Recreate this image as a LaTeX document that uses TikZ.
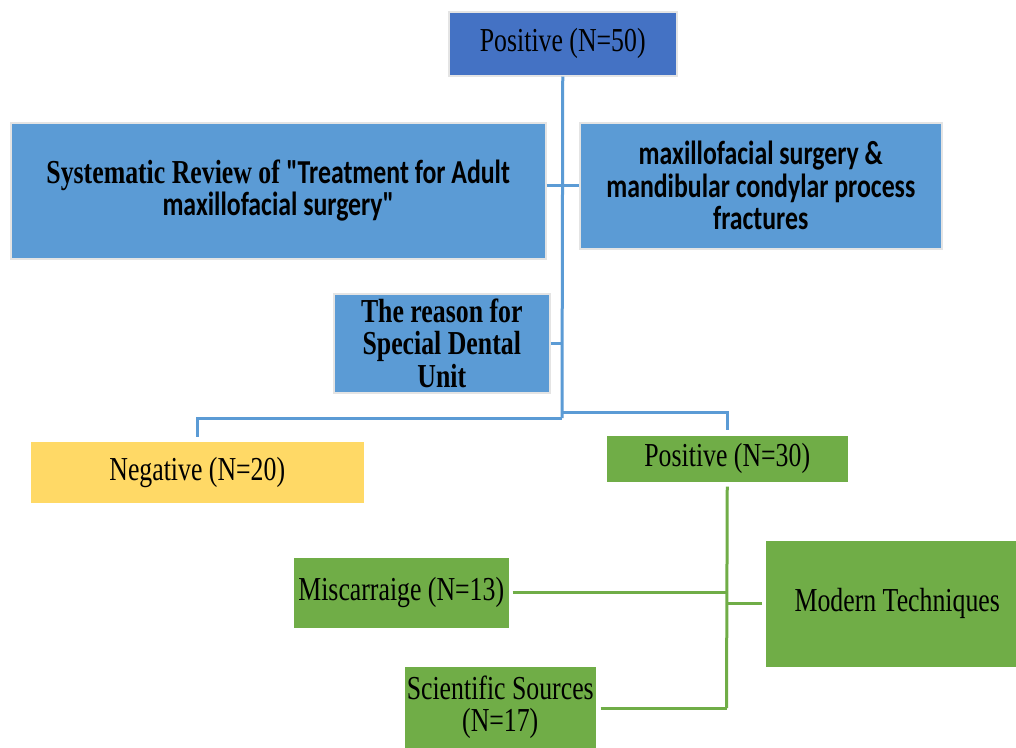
\documentclass[tikz,border=0pt]{standalone}
\usepackage{fontspec}
\setmainfont{Liberation Serif}[FakeStretch=0.77]
\setsansfont{Carlito}[FakeStretch=0.77]
\newfontfamily\calibri{Carlito}[FakeStretch=0.77]
\definecolor{topblue}{HTML}{4472C4}
\definecolor{midblue}{HTML}{5B9BD5}
\definecolor{ygold}{HTML}{FFD966}
\definecolor{lgreen}{HTML}{70AD47}
\definecolor{edgegray}{HTML}{E4E4E4}
\tikzset{
  box/.style={draw=edgegray, line width=1.5pt, anchor=north west, align=center, inner sep=0pt,
    font=\fontsize{33.5}{32.5}\selectfont},
  bl/.style={draw=midblue, line width=3pt},
  gl/.style={draw=lgreen, line width=3pt},
}
\begin{document}
\begin{tikzpicture}[x=1pt,y=-1pt]
\useasboundingbox[fill=white] (0,0) rectangle (1016,747);
% boxes
\node[box, fill=topblue, minimum width=228pt, minimum height=64pt] (top) at (448,11) {Positive (N=50)};
\node[box, fill=midblue, minimum width=535pt, minimum height=136pt] (sysrev) at (10,122)
  {\bfseries Systematic Review of {\calibri\bfseries "Treatment for Adult}\\{\calibri\bfseries maxillofacial surgery"}};
\node[box, fill=midblue, minimum width=362pt, minimum height=126pt, font=\fontsize{33.5}{32.5}\selectfont\sffamily\bfseries] (maxi) at (579,122)
  {maxillofacial surgery \&\\mandibular condylar process\\fractures};
\node[box, fill=midblue, minimum width=216pt, minimum height=99pt, font=\fontsize{33.5}{32.5}\selectfont\bfseries] (reason) at (333,293)
  {The reason for\\Special Dental\\Unit};
\node[box, draw=none, fill=ygold, minimum width=333pt, minimum height=61pt] (neg) at (30,441) {Negative (N=20)};
\node[box, draw=none, fill=lgreen, minimum width=241pt, minimum height=46pt] (pos) at (606,435) {Positive (N=30)};
\node[box, draw=none, fill=lgreen, minimum width=215pt, minimum height=70pt] (misc) at (293,557) {Miscarraige (N=13)};
\node[box, draw=none, fill=lgreen, minimum width=251pt, minimum height=126pt] (modern) at (765,540) {\hspace{12pt}Modern Techniques};
\node[box, draw=none, fill=lgreen, minimum width=191pt, minimum height=81pt] (sci) at (404,666) {Scientific Sources\\(N=17)};
% blue connectors
\coordinate (J1) at (562,412);
\coordinate (J2) at (562,418);
\draw[bl] (top.south) -- (J2);
\draw[bl] (sysrev.east |- maxi.west) -- (maxi.west);
\draw[bl] (reason.east) -- (reason.east -| J1);
\draw[bl] (J1) -| ([yshift=5pt]pos.north);
\draw[bl] (J2) -| ([yshift=4pt]neg.north);
% green connectors
\coordinate (G) at (726.5,708);
\draw[gl] ([yshift=-4pt]pos.south) -- (G);
\draw[gl] ([xshift=3pt]misc.east) -- (misc.east -| G);
\draw[gl] (modern.west -| G) -- ([xshift=-3pt]modern.west);
\draw[gl] ([xshift=4pt]sci.east |- G) -- (G);
\end{tikzpicture}
\end{document}
